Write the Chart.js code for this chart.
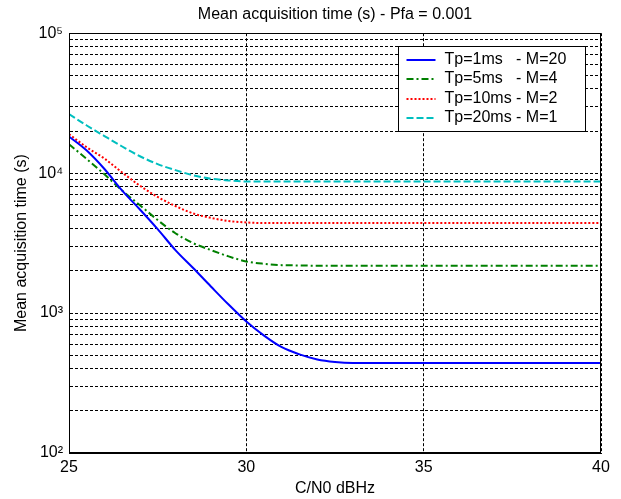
<!DOCTYPE html>
<html>
<head>
<meta charset="utf-8">
<script src="https://cdn.jsdelivr.net/npm/chart.js@4.4.1/dist/chart.umd.min.js"></script>
<style>
  html, body { margin: 0; padding: 0; background: #fff; }
</style>
</head>
<body>
<canvas id="chart_acqTime" width="621" height="499"></canvas>
<script>
// C/N0 in dBHz
const CN0 = [25, 25.5, 26, 26.5, 27, 27.5, 28, 28.5, 29, 29.5, 30, 30.5, 31, 31.5, 32, 32.5,
  33, 33.5, 34, 34.5, 35, 35.5, 36, 36.5, 37, 37.5, 38, 38.5, 39, 39.5, 40];

// mean acquisition time (s)
const TP1_M20 = [18300, 14500, 10700, 7500, 5500, 3980, 2820, 2100, 1550, 1150, 870, 690, 570, 507, 466, 447,
  440, 440, 440, 440, 440, 440, 440, 440, 440, 440, 440, 440, 440, 440, 440];
const TP5_M4 = [16100, 12600, 9800, 7500, 5900, 4620, 3720, 3160, 2820, 2540, 2340, 2250, 2200, 2190,
  2180, 2180, 2180, 2180, 2180, 2180, 2180, 2180, 2180, 2180, 2180, 2180, 2180, 2180, 2180, 2180, 2180];
const TP10_M2 = [19000, 15300, 12700, 10100, 8130, 6760, 5820, 5150, 4790, 4550, 4440, 4400,
  4400, 4400, 4400, 4400, 4400, 4400, 4400, 4400, 4400, 4400, 4400, 4400, 4400, 4400, 4400, 4400, 4400, 4400, 4400];
const TP20_M1 = [26400, 21900, 18400, 15500, 13200, 11600, 10500, 9660, 9120, 8870, 8710,
  8700, 8700, 8700, 8700, 8700, 8700, 8700, 8700, 8700, 8700, 8700, 8700, 8700, 8700, 8700, 8700, 8700, 8700, 8700, 8700];

const LABELS = ['Tp=1ms   - M=20', 'Tp=5ms   - M=4', 'Tp=10ms - M=2', 'Tp=20ms - M=1'];

const X_TICKS = [25, 30, 35, 40];
const Y_DECADES = [100, 1000, 10000, 100000];
const Y_DECADE_LABELS = ['10\u00B2', '10\u00B3', '10\u2074', '10\u2075'];
const Y_MINOR = [2, 3, 4, 5, 6, 7, 8, 9];

const FONT = { family: '"Liberation Sans", Arial, sans-serif', size: 16 };

(function() {

  const yTicks = [];
  Y_DECADES.forEach((d, i) => {
    yTicks.push(d);
    if (i < Y_DECADES.length - 1) Y_MINOR.forEach(m => yTicks.push(d * m));
  });

  const toPoints = ys => CN0.map((x, i) => ({ x: x, y: ys[i] }));

  const lineSet = (label, data, color, dash) => ({
    label: label,
    data: toPoints(data),
    borderColor: color,
    borderWidth: 2,
    borderDash: dash,
    pointRadius: 0,
    fill: false,
    cubicInterpolationMode: 'monotone'
  });

  const boxAndLegend = {
    id: 'boxAndLegend',
    afterDraw(chart) {
      const { ctx, chartArea: a } = chart;
      const l = Math.round(a.left) + 0.5, t = Math.round(a.top) + 0.5;
      const r = Math.round(a.right) - 0.5, b = Math.round(a.bottom) - 0.5;
      ctx.save();
      ctx.setLineDash([]);
      ctx.strokeStyle = '#000';
      ctx.lineWidth = 1;
      ctx.strokeRect(l, t, r - l, b - t);

      const w = 187, h = 85;
      const lx = Math.round(r - 16 - w) + 0.5, ly = Math.round(t + 12) + 0.5;
      ctx.fillStyle = '#fff';
      ctx.fillRect(lx, ly, w, h);
      ctx.strokeRect(lx, ly, w, h);
      ctx.font = FONT.size + 'px ' + FONT.family;
      ctx.textBaseline = 'middle';
      ctx.textAlign = 'left';
      chart.data.datasets.forEach((ds, i) => {
        const y = Math.round(ly + 13 + i * 19.5);
        ctx.strokeStyle = ds.borderColor;
        ctx.lineWidth = ds.borderWidth;
        ctx.setLineDash(ds.borderDash || []);
        ctx.beginPath();
        ctx.moveTo(lx + 8, y);
        ctx.lineTo(lx + 37, y);
        ctx.stroke();
        ctx.fillStyle = '#000';
        ctx.fillText(ds.label, lx + 46, y);
      });
      ctx.restore();
    }
  };

  new Chart(document.getElementById('chart_acqTime'), {
    type: 'line',
    data: {
      datasets: [
        lineSet(LABELS[0], TP1_M20, '#0000ff', []),
        lineSet(LABELS[1], TP5_M4, '#008000', [7, 3, 2, 3]),
        lineSet(LABELS[2], TP10_M2, '#ff0000', [2, 2]),
        lineSet(LABELS[3], TP20_M1, '#00bfbf', [7, 3])
      ]
    },
    options: {
      responsive: false,
      animation: false,
      devicePixelRatio: 1,
      layout: { padding: { left: 0, right: 20, top: 0, bottom: 0 } },
      plugins: {
        legend: { display: false },
        tooltip: { enabled: false },
        title: {
          display: true,
          fullSize: false,
          text: 'Mean acquisition time (s) - Pfa = 0.001',
          color: '#000',
          font: { family: FONT.family, size: FONT.size, weight: 'normal' },
          padding: { top: 5, bottom: 9 }
        }
      },
      scales: {
        x: {
          type: 'linear',
          min: 25,
          max: 40,
          afterBuildTicks: s => { s.ticks = X_TICKS.map(v => ({ value: v })); },
          afterFit: s => { s.height = 46; },
          grid: { color: '#000', lineWidth: 1, drawTicks: false },
          border: { color: '#000', width: 1, dash: [3, 2] },
          ticks: { color: '#000', font: FONT, padding: 5, autoSkip: false, maxRotation: 0 },
          title: { display: true, text: 'C/N0 dBHz', color: '#000', font: FONT, padding: { top: 0, bottom: 1 } }
        },
        y: {
          type: 'logarithmic',
          min: 100,
          max: 100000,
          afterBuildTicks: s => { s.ticks = yTicks.map(v => ({ value: v })); },
          afterFit: s => { s.width = 69; },
          grid: { color: '#000', lineWidth: 1, drawTicks: false },
          border: { color: '#000', width: 1, dash: [3, 2] },
          ticks: {
            color: '#000',
            font: FONT,
            padding: 6,
            autoSkip: false,
            callback: v => {
              const i = Y_DECADES.indexOf(v);
              return i >= 0 ? Y_DECADE_LABELS[i] : '';
            }
          },
          title: { display: true, text: 'Mean acquisition time (s)', color: '#000', font: FONT, padding: { top: 12, bottom: 0 } }
        }
      }
    },
    plugins: [boxAndLegend]
  });

})();
</script>
</body>
</html>
